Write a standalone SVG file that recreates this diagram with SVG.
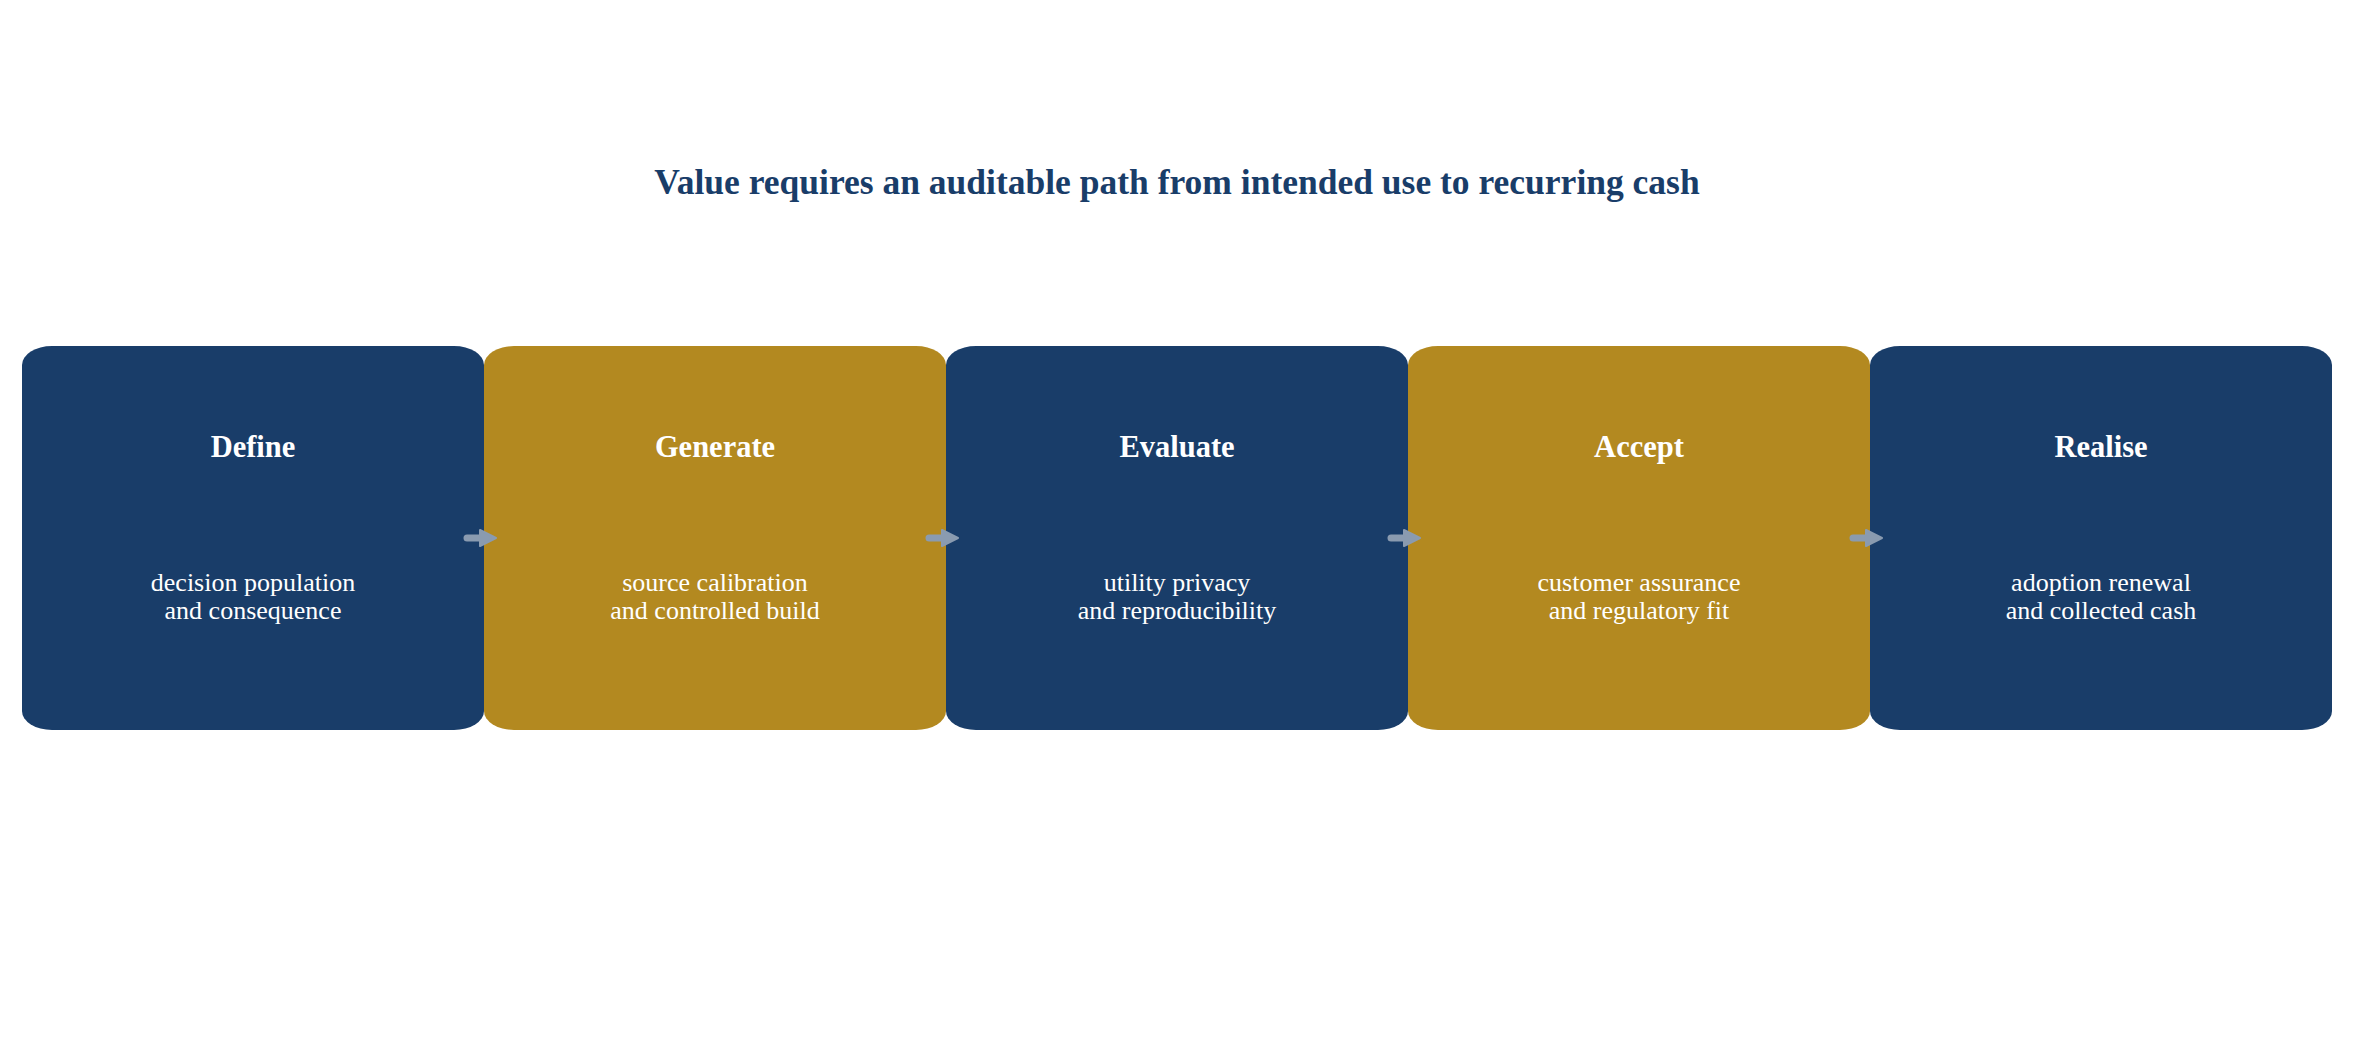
<svg xmlns="http://www.w3.org/2000/svg" width="2354" height="1056" viewBox="0 0 2354 1056">
<defs>
<style>
.navy{fill:#193d69}
.gold{fill:#b38920}
.h{font-family:"Liberation Serif","Times New Roman",serif;font-weight:bold;font-size:30.5px;fill:#ffffff;text-anchor:middle}
.b{font-family:"Liberation Serif","Times New Roman",serif;font-size:26px;fill:#ffffff;text-anchor:middle}
.title{font-family:"Liberation Serif","Times New Roman",serif;font-weight:bold;font-size:35.5px;fill:#193d69;text-anchor:middle}
.shaft{stroke:#8a9bb0;stroke-width:7;stroke-linecap:round;fill:none}
.head{fill:#8a9bb0;stroke:#8a9bb0;stroke-width:2;stroke-linejoin:round}
</style>
</defs>
<rect width="2354" height="1056" fill="#ffffff"/>
<text id="title" class="title" x="1177" y="194">Value requires an auditable path from intended use to recurring cash</text>
<g id="node-define">
<rect class="navy" x="22" y="346" width="462" height="384" rx="30" ry="19"/>
<text class="h" x="253" y="457">Define</text>
<text class="b" x="253" y="591">decision population</text>
<text class="b" x="253" y="619">and consequence</text>
</g>
<g id="node-generate">
<rect class="gold" x="484" y="346" width="462" height="384" rx="30" ry="19"/>
<text class="h" x="715" y="457">Generate</text>
<text class="b" x="715" y="591">source calibration</text>
<text class="b" x="715" y="619">and controlled build</text>
</g>
<g id="node-evaluate">
<rect class="navy" x="946" y="346" width="462" height="384" rx="30" ry="19"/>
<text class="h" x="1177" y="457">Evaluate</text>
<text class="b" x="1177" y="591">utility privacy</text>
<text class="b" x="1177" y="619">and reproducibility</text>
</g>
<g id="node-accept">
<rect class="gold" x="1408" y="346" width="462" height="384" rx="30" ry="19"/>
<text class="h" x="1639" y="457">Accept</text>
<text class="b" x="1639" y="591">customer assurance</text>
<text class="b" x="1639" y="619">and regulatory fit</text>
</g>
<g id="node-realise">
<rect class="navy" x="1870" y="346" width="462" height="384" rx="30" ry="19"/>
<text class="h" x="2101" y="457">Realise</text>
<text class="b" x="2101" y="591">adoption renewal</text>
<text class="b" x="2101" y="619">and collected cash</text>
</g>
<g id="connectors">
<line class="shaft" x1="467" y1="538" x2="485" y2="538"/>
<polygon class="head" points="480,530 496,538 480,546"/>
<line class="shaft" x1="929" y1="538" x2="947" y2="538"/>
<polygon class="head" points="942,530 958,538 942,546"/>
<line class="shaft" x1="1391" y1="538" x2="1409" y2="538"/>
<polygon class="head" points="1404,530 1420,538 1404,546"/>
<line class="shaft" x1="1853" y1="538" x2="1871" y2="538"/>
<polygon class="head" points="1866,530 1882,538 1866,546"/>
</g>
</svg>
